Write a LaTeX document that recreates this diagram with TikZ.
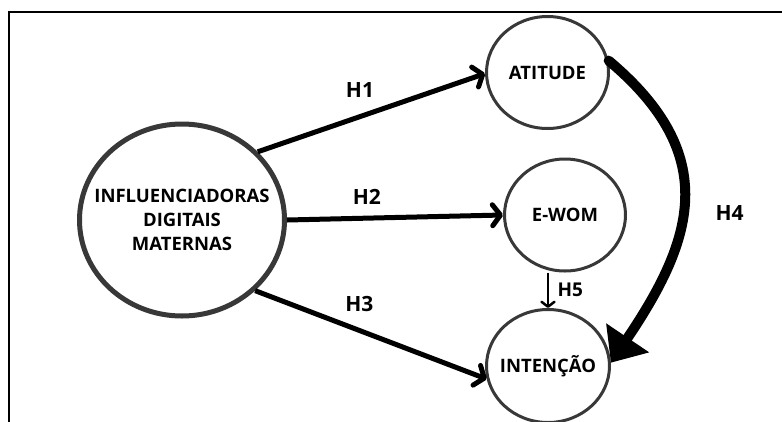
\documentclass[tikz,border=0pt]{standalone}
\usepackage{fontspec}
\setmainfont{Open Sans}
\usetikzlibrary{arrows.meta, shapes.geometric}

\begin{document}
\begin{tikzpicture}[x=1pt, y=-1pt,
  var/.style={ellipse, draw=black!78, line width=3pt, inner sep=0pt},
  varname/.style={font=\bfseries\fontsize{18.5}{24}\selectfont, align=center},
  hyp/.style={line width=5pt, -{Straight Barb[length=8pt, width=21pt, round]}},
  hlabel/.style={black, font=\bfseries\fontsize{21}{24}\selectfont}]

\useasboundingbox (0,0) rectangle (782,421);
\draw[line width=2pt] (9,425) -- (9,12) -- (786,12); %frame

\node[var, line width=5pt, minimum width=205pt, minimum height=192pt,
  label={[varname]center:INFLUENCIADORAS\\DIGITAIS\\MATERNAS}] (infl) at (182,220) {};
\node[var, minimum width=122pt, minimum height=112pt, label={[varname]center:ATITUDE}] (atitude) at (547.5,72.5) {};
\node[var, minimum width=121pt, minimum height=112pt, label={[varname]center:E-WOM}] (ewom) at (565,215) {};
\node[var, minimum width=123pt, minimum height=113pt, label={[varname]center:INTENÇÃO}] (intencao) at (548,366) {};

\draw[hyp] (infl.42) -- (atitude.181) node[hlabel, pos=0.45, above=13pt]{H1}; %H1
\draw[hyp] (infl.east) -- (ewom.west) node[hlabel, pos=0.37, above=8pt]{H2}; %H2
\draw[hyp] (infl.-44) -- (intencao.192) node[hlabel, pos=0.45, above=13pt]{H3}; %H3

\draw[line width=10pt, line cap=round, -{Triangle[length=30pt, width=50pt]}] (atitude.11) to[out=-40, in=56, looseness=1.25] node[hlabel, right=24pt, yshift=-12pt]{H4} (intencao.3); %H4

\draw[line width=2.5pt, -{Straight Barb[length=5pt, width=13pt, round]}] (intencao.north |- ewom.south) -- (intencao.north) node[hlabel, midway, right=5pt, font=\bfseries\fontsize{19}{20}\selectfont]{H5}; %H5

\end{tikzpicture}
\end{document}
